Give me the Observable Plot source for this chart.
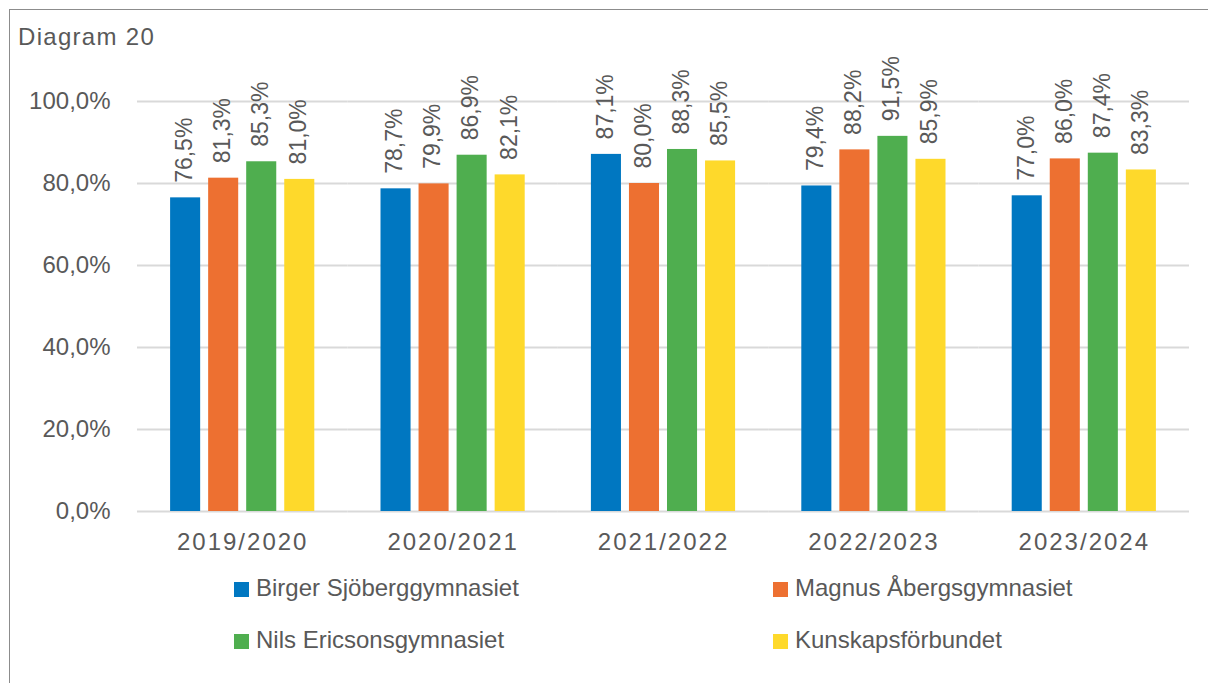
<!DOCTYPE html>
<html><head><meta charset="utf-8">
<script src="https://cdn.jsdelivr.net/npm/d3@7"></script>
<script src="https://cdn.jsdelivr.net/npm/@observablehq/plot@0.6"></script>
<style>
body{margin:0;width:1208px;height:683px;overflow:hidden;background:#fff;font-family:"Liberation Sans",Arial,sans-serif;color:#595959;position:relative}
#frame{position:absolute;left:9px;top:9px;width:1300px;height:800px;border-top:1px solid #8c8c8c;border-left:1px solid #8c8c8c}
#title{position:absolute;left:18px;top:22px;font-size:24px;line-height:30px;letter-spacing:1.3px;color:#595959}
#chart{position:absolute;left:0;top:0}
.leg{position:absolute;font-size:24px;line-height:30px;color:#595959;white-space:nowrap}
.leg span.sw{position:absolute;width:15px;height:15px;top:9px}
</style></head>
<body>
<div id="frame"></div>
<div id="chart"></div>
<div id="title">Diagram 20</div>
<div id="legend"></div>
<script>
const years = ["2019/2020", "2020/2021", "2021/2022", "2022/2023", "2023/2024"];
const schools = ["Birger Sjöberggymnasiet", "Magnus Åbergsgymnasiet", "Nils Ericsonsgymnasiet", "Kunskapsförbundet"];
const colors = ["#0077C1", "#ED7031", "#4FAE4F", "#FED92B"];
const birger = [76.5, 78.7, 87.1, 79.4, 77.0];
const magnus = [81.3, 79.9, 80.0, 88.2, 86.0];
const nils = [85.3, 86.9, 88.3, 91.5, 87.4];
const kunskap = [81.0, 82.1, 85.5, 85.9, 83.3];
const yTicks = [0, 20, 40, 60, 80, 100];

const series = [birger, magnus, nils, kunskap];
const data = [];
years.forEach((yr, i) => {
  schools.forEach((s, j) => data.push({year: yr, school: s, value: series[j][i]}));
});
const fmt = v => v.toFixed(1).replace(".", ",") + "%";
const font = "'Liberation Sans', Arial, sans-serif";

const chart = Plot.plot({
  width: 1208, height: 570,
  marginLeft: 137, marginRight: 19, marginTop: 101, marginBottom: 59,
  style: {fontFamily: font, fontSize: "24px", color: "#595959", background: "transparent"},
  fx: {domain: years, padding: 0, round: false, label: null},
  x: {domain: schools, paddingInner: 0.21, paddingOuter: 0.87, round: false, axis: null},
  y: {domain: [0, 100], label: null},
  color: {domain: schools, range: colors},
  marks: [
    Plot.gridY(yTicks, {stroke: "#d9d9d9", strokeOpacity: 1, strokeWidth: 2}),
    Plot.axisY(yTicks, {tickSize: 0, tickPadding: 27, tickFormat: fmt, label: null, fontSize: 24, fill: "#595959"}),
    Plot.barY(data, {fx: "year", x: "school", y: "value", fill: "school"}),
    Plot.text(data, {fx: "year", x: "school", y: "value", text: d => fmt(d.value), rotate: -90,
      textAnchor: "start", lineAnchor: "middle", dy: -15, dx: -1, fill: "#595959", fontSize: 23}),
    Plot.axisFx({anchor: "bottom", tickSize: 0, tickPadding: 21, label: null, fontSize: 24, fill: "#595959",
      style: {letterSpacing: "2px"}})
  ]
});
document.getElementById("chart").appendChild(chart);
// letter spacing for the year labels
chart.querySelectorAll("[aria-label='fx-axis tick label'] text").forEach(t => t.setAttribute("letter-spacing", "2"));

const legPos = [[234, 573], [773, 573], [234, 625], [773, 625]];
const legend = document.getElementById("legend");
schools.forEach((s, i) => {
  const d = document.createElement("div");
  d.className = "leg";
  d.style.left = legPos[i][0] + "px";
  d.style.top = legPos[i][1] + "px";
  d.innerHTML = `<span class="sw" style="left:0;background:${colors[i]}"></span><span style="margin-left:22px">${s}</span>`;
  legend.appendChild(d);
});
</script>
</body></html>
